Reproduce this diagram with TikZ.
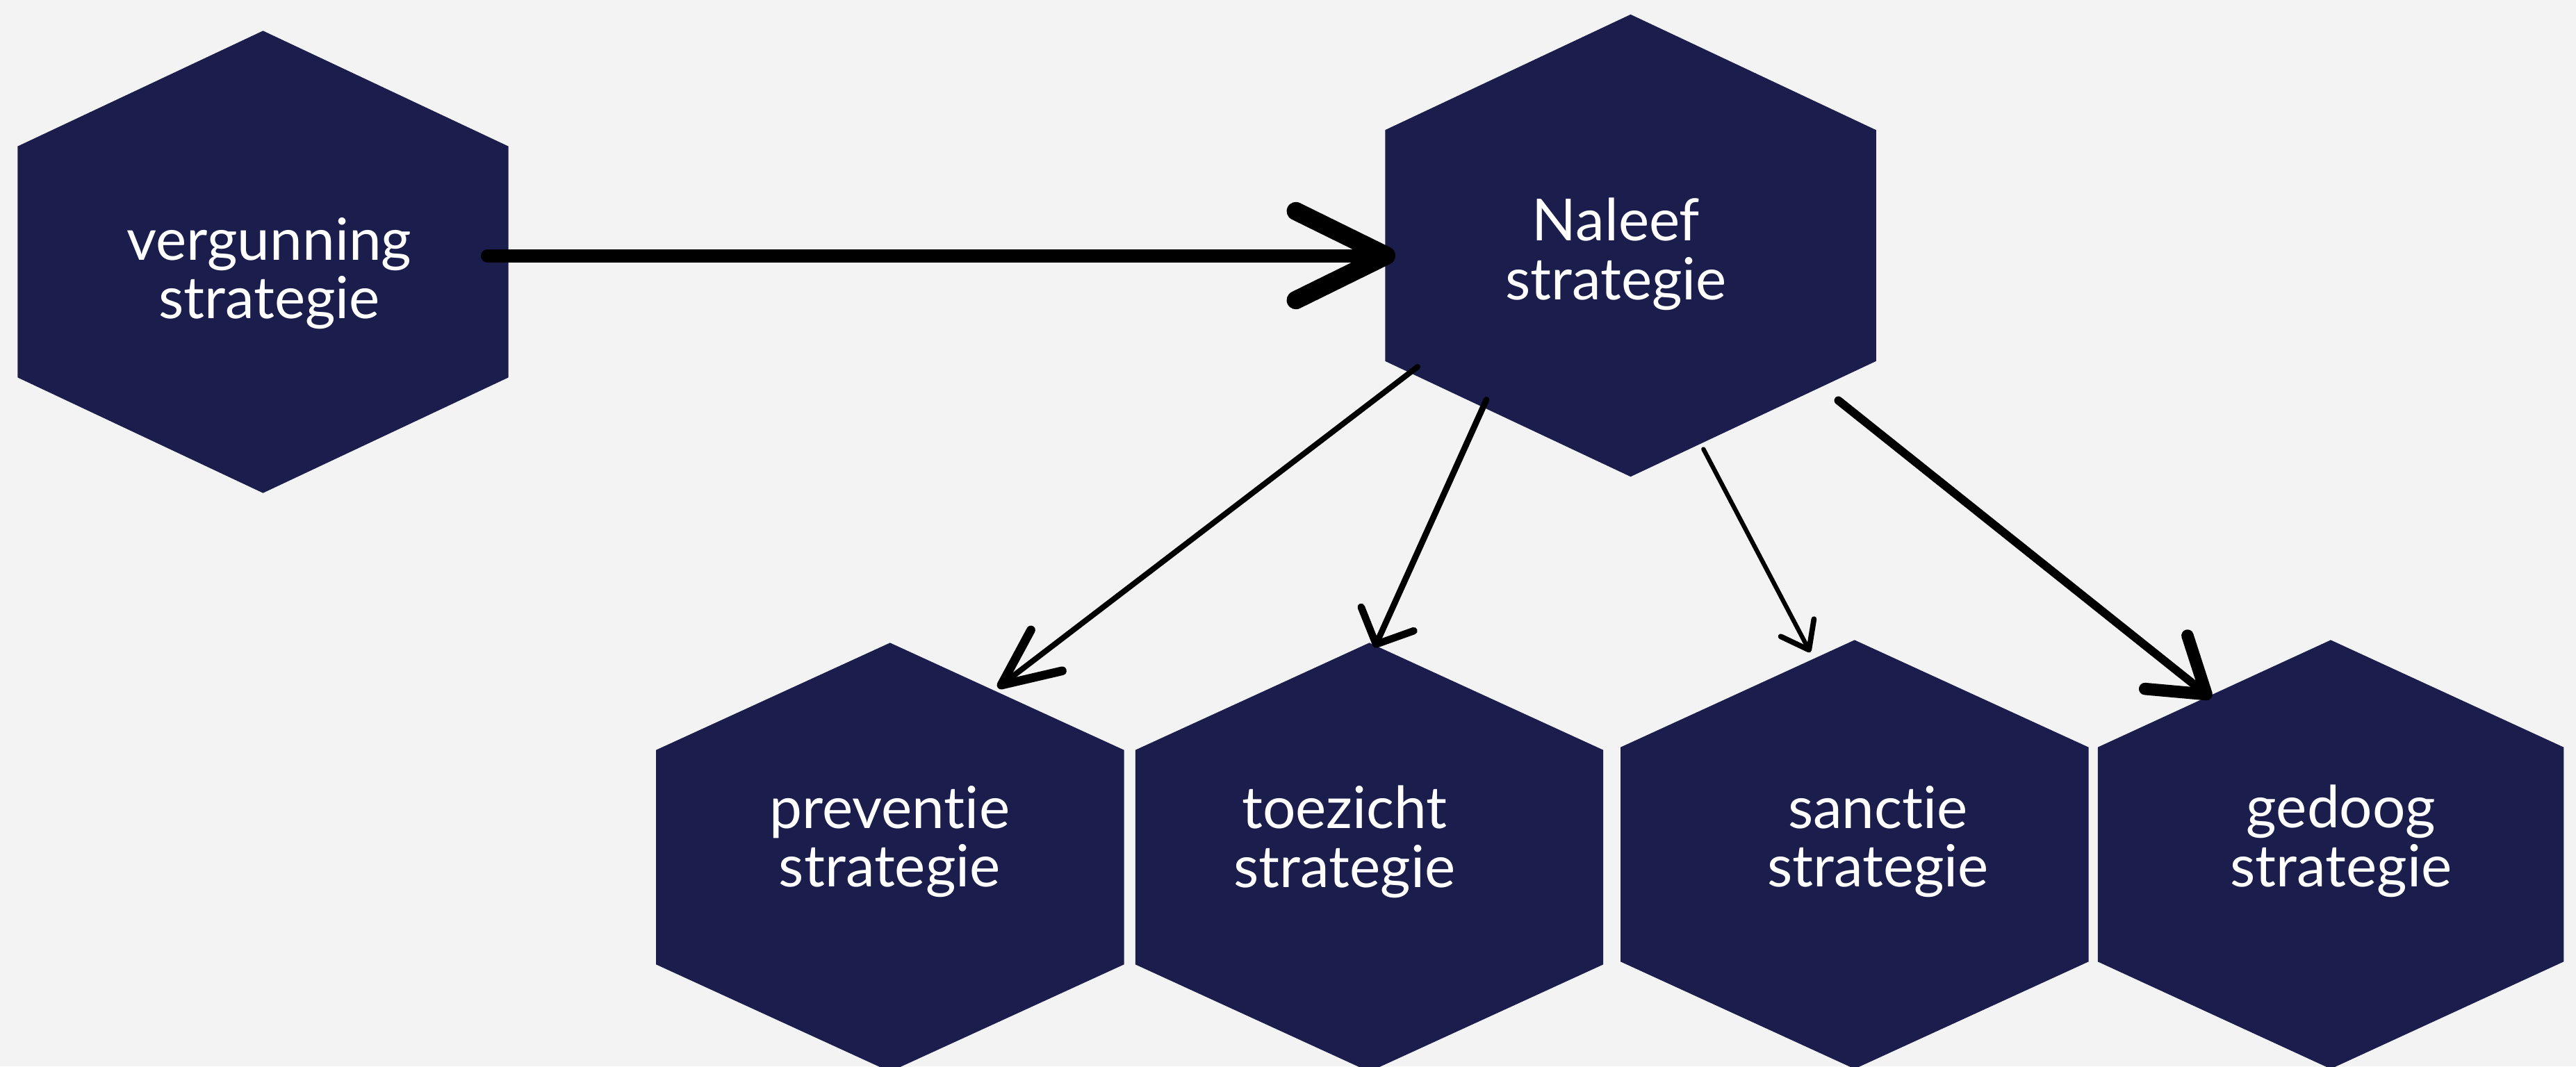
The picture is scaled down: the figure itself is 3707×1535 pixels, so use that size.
\documentclass[tikz,border=0pt]{standalone}
\usepackage{fontspec}
\setmainfont{Lato}[Ligatures={NoCommon}]
\usetikzlibrary{arrows.meta,calc}

\definecolor{hexblue}{RGB}{27,30,76}
\definecolor{bggrey}{RGB}{243,243,243}
\def\ppbb{path picture bounding box}

\tikzset{
	hexa/.style 2 args={minimum width=#1, minimum height=#2, inner sep=0pt, path picture={
		\fill[hexblue] (\ppbb.north)
			-- ($(\ppbb.north east)!.25!(\ppbb.south east)$)
			-- ($(\ppbb.north east)!.75!(\ppbb.south east)$)
			-- (\ppbb.south)
			-- ($(\ppbb.north west)!.75!(\ppbb.south west)$)
			-- ($(\ppbb.north west)!.25!(\ppbb.south west)$) -- cycle;}},
	hexbig/.style={hexa={7.06cm}{6.65cm}},
	hexsmall/.style={hexa={6.73cm}{6.17cm}},
	lbl/.style={text=white, align=center, inner sep=0pt, font=\fontsize{23.8pt}{24.1pt}\selectfont},
	flow/.style n args={4}{draw=black, line width=#1, line cap=round,
		-{Straight Barb[length=#2, width=#3, line width=#4, round]}}
}

\begin{document}
\begin{tikzpicture}[x=0.01cm, y=-0.01cm]
	% Background
	\useasboundingbox[fill=bggrey] (0,0) rectangle (3707,1535);

	% Draw hexagons
	\node[hexbig] (ver) at (378.5,377) {};
	\node[hexbig] (nal) at (2346.5,353.5) {};
	\node[hexsmall] (pre) at (1280.8,1234) {};
	\node[hexsmall] (toe) at (1970.5,1234) {};
	\node[hexsmall] (san) at (2668.8,1230) {};
	\node[hexsmall, minimum width=6.70cm] (ged) at (3354,1230) {};

	% Draw text
	\node[lbl] (ver-t) at (387.5,393.5) {vergunning\\strategie};
	\node[lbl] (nal-t) at (2325.5,365.5) {Naleef\\strategie};
	\node[lbl] (pre-t) at (1280.3,1211.5) {preventie\\strategie};
	\node[lbl] (toe-t) at (1935,1211.5) {toezicht\\strategie};
	\node[lbl] (san-t) at (2702.5,1211.5) {sanctie\\strategie};
	\node[lbl] (ged-t) at (3369,1210.5) {gedoog\\strategie};

	% Draw arrows
	\draw[flow={5.4pt}{1.3cm}{1.28cm}{7.5pt}] ([shift={(323,-9)}]ver.center) -- ([shift={(-338.5,14.5)}]nal.center);
	\draw[flow={2.3pt}{0.82cm}{0.74cm}{3.6pt}] ([shift={(-306.5,174.5)}]nal.center) -- ([shift={(155,-244)}]pre.center);
	\draw[flow={2.5pt}{0.4cm}{0.83cm}{3pt}] ([shift={(-207.5,222)}]nal.center) -- ([shift={(7.5,-301.7)}]toe.center);
	\draw[flow={1.8pt}{0.36cm}{0.54cm}{2.2pt}] ([shift={(104.8,293)}]nal.center) -- ([shift={(-63.8,-291)}]san.center);
	\draw[flow={3.4pt}{0.74cm}{0.98cm}{5pt}] ([shift={(299,223)}]nal.center) -- ([shift={(-172,-225)}]ged.center);
\end{tikzpicture}
\end{document}
